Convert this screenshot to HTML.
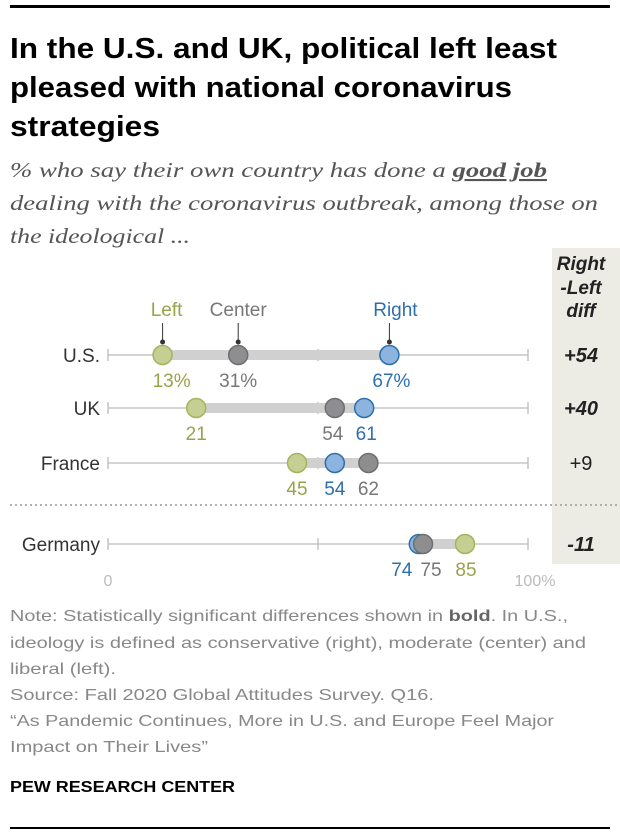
<!DOCTYPE html>
<html><head><meta charset="utf-8"><style>
html,body{margin:0;padding:0;background:#fff;}
svg{display:block;}
</style></head><body>
<svg id="chart" width="620" height="836" xmlns="http://www.w3.org/2000/svg">
<rect x="10" y="5" width="600" height="3" fill="#000"/>
<g font-family="Liberation Sans, sans-serif" font-weight="bold" font-size="29" fill="#000">
<text x="10" y="58" textLength="547" lengthAdjust="spacingAndGlyphs">In the U.S. and UK, political left least</text>
<text x="10" y="97" textLength="502" lengthAdjust="spacingAndGlyphs">pleased with national coronavirus</text>
<text x="10" y="136" textLength="150" lengthAdjust="spacingAndGlyphs">strategies</text>
</g>
<g font-family="Liberation Serif, serif" font-style="italic" font-size="21" fill="#555">
<text x="10" y="177" textLength="537" lengthAdjust="spacingAndGlyphs">% who say their own country has done a <tspan font-weight="bold" text-decoration="underline">good job</tspan></text>
<text x="10" y="210" textLength="588" lengthAdjust="spacingAndGlyphs">dealing with the coronavirus outbreak, among those on</text>
<text x="10" y="243" textLength="180" lengthAdjust="spacingAndGlyphs">the ideological ...</text>
</g>
<rect x="552" y="248" width="68" height="316" fill="#ecebe4"/>
<g font-family="Liberation Sans, sans-serif" font-weight="bold" font-style="italic" font-size="19" fill="#222" text-anchor="middle">
<text x="581" y="270">Right</text><text x="581" y="294">-Left</text><text x="581" y="317">diff</text>
</g>
<line x1="10" y1="505" x2="620" y2="505" stroke="#999" stroke-width="1.5" stroke-dasharray="2,3"/>
<g id="plot"></g>
<g font-family="Liberation Sans, sans-serif" font-size="16" fill="#bbb">
<text x="108" y="586" text-anchor="middle">0</text><text x="535" y="586" text-anchor="middle">100%</text>
</g>
<g font-family="Liberation Sans, sans-serif" font-size="16" fill="#888">
<text x="10" y="621" textLength="558" lengthAdjust="spacingAndGlyphs">Note: Statistically significant differences shown in <tspan font-weight="bold" fill="#666">bold</tspan>. In U.S.,</text>
<text x="10" y="648" textLength="576" lengthAdjust="spacingAndGlyphs">ideology is defined as conservative (right), moderate (center) and</text>
<text x="10" y="674" textLength="106" lengthAdjust="spacingAndGlyphs">liberal (left).</text>
<text x="10" y="700" textLength="424" lengthAdjust="spacingAndGlyphs">Source: Fall 2020 Global Attitudes Survey. Q16.</text>
<text x="10" y="726" textLength="544" lengthAdjust="spacingAndGlyphs">“As Pandemic Continues, More in U.S. and Europe Feel Major</text>
<text x="10" y="752" textLength="198" lengthAdjust="spacingAndGlyphs">Impact on Their Lives”</text>
</g>
<text x="10" y="792" font-family="Liberation Sans, sans-serif" font-weight="bold" font-size="16" fill="#000" textLength="225" lengthAdjust="spacingAndGlyphs">PEW RESEARCH CENTER</text>
<rect x="10" y="827" width="600" height="2" fill="#000"/>
</svg>
<script>
const countries = ["U.S.", "UK", "France", "Germany"];
const leftVals = [13, 21, 45, 85];
const centerVals = [31, 54, 62, 75];
const rightVals = [67, 61, 54, 74];
const diffLabels = ["+54", "+40", "+9", "-11"];
const diffBold = [true, true, false, true];
const pctSuffix = [true, false, false, false];

const NS = "http://www.w3.org/2000/svg";
const rowY = [355, 408, 463, 544];
const x0 = 108, x1 = 528;
function xs(v){ return x0 + (x1 - x0) * v / 100; }
const plot = document.getElementById('plot');
function mk(tag, attrs, parent){
  const e = document.createElementNS(NS, tag);
  for (const k in attrs) e.setAttribute(k, attrs[k]);
  (parent || plot).appendChild(e);
  return e;
}
const C = {
  left: {fill:"#c5cf93", stroke:"#a7b25a", text:"#9aa24a"},
  center: {fill:"#8e8e90", stroke:"#6e6e70", text:"#777"},
  right: {fill:"#8cb4df", stroke:"#2d6fac", text:"#2d6fac"}
};
countries.forEach((c, i) => {
  const y = rowY[i];
  const g = mk('g', {});
  
  
  const ax = mk('line', {x1:xs(0), x2:xs(100), y1:y, y2:y, stroke:"#bbb", "stroke-width":1.3}, g);
  
  
  [0, 50, 100].forEach(t => {
    const tk = mk('line', {x1:xs(t), x2:xs(t), y1:y-6, y2:y+6, stroke:"#bbb", "stroke-width":1.3}, g);
    
    
  });
  const lbl = mk('text', {x:100, y:y+7, "text-anchor":"end", "font-family":"Liberation Sans, sans-serif", "font-size":19, fill:"#333"}, g);
  lbl.textContent = c;
  
  
  const vals = [leftVals[i], centerVals[i], rightVals[i]];
  const mn = Math.min(...vals), mx = Math.max(...vals);
  const bar = mk('rect', {x:xs(mn), y:y-5, width:xs(mx)-xs(mn), height:10, fill:"#d0d0d0"}, g);
  
  
  const series = (i === 3) ? [["left", leftVals[i]], ["right", rightVals[i]], ["center", centerVals[i]]]
                           : [["right", rightVals[i]], ["left", leftVals[i]], ["center", centerVals[i]]];
  series.forEach(([k, v]) => {
    const dot = mk('circle', {cx:xs(v), cy:y, r:9.5, fill:C[k].fill, stroke:C[k].stroke, "stroke-width":1.5}, g);
    
    
  });
  const offs = {left:0, center:0, right:0};
  if (i === 0) { offs.left = 9; offs.right = 2; }
  if (i === 1) { offs.center = -2; offs.right = 2; }
  if (i === 3) { offs.right = -17; offs.center = 8; offs.left = 1; }
  [["left", leftVals[i]], ["center", centerVals[i]], ["right", rightVals[i]]].forEach(([k, v]) => {
    const t = mk('text', {x:xs(v) + offs[k], y:y+32, "text-anchor":"middle", "font-family":"Liberation Sans, sans-serif", "font-size":19, fill:C[k].text}, g);
    t.textContent = v + (pctSuffix[i] ? "%" : "");
    
    
  });
  const d = mk('text', {x:581, y:y+7, "text-anchor":"middle", "font-family":"Liberation Sans, sans-serif", "font-size":20, "font-style": diffBold[i] ? "italic" : "normal", "font-weight": diffBold[i] ? "bold" : "normal", fill:"#222"}, g);
  d.textContent = diffLabels[i];
  
  
});
const y0 = rowY[0];
[["left","Left",leftVals[0]],["center","Center",centerVals[0]],["right","Right",rightVals[0]]].forEach(([k, name, v]) => {
  const t = mk('text', {x:xs(v) + (k === "left" ? 4 : (k === "right" ? 6 : 0)), y:y0-39, "text-anchor":"middle", "font-family":"Liberation Sans, sans-serif", "font-size":19, fill:C[k].text});
  t.textContent = name;
  
  
  const ln = mk('line', {x1:xs(v), x2:xs(v), y1:y0-32, y2:y0-13, stroke:"#333", "stroke-width":1});
  
  
  const dt = mk('circle', {cx:xs(v), cy:y0-13, r:2.5, fill:"#333"});
  
  
});
</script>
</body></html>
